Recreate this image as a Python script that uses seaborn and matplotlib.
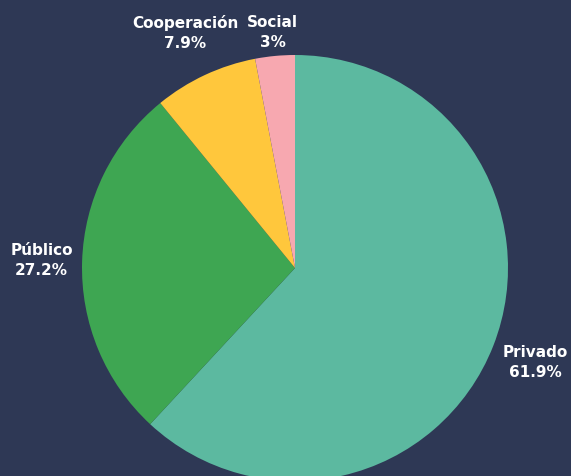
import numpy as np
import matplotlib
matplotlib.use("Agg")
import matplotlib.pyplot as plt
import seaborn as sns

categories = ["Privado", "Público", "Cooperación", "Social"]
values = [61.9, 27.2, 7.9, 3.0]
value_labels = ["61.9%", "27.2%", "7.9%", "3%"]
colors = ["#5CB9A0", "#3EA652", "#FFC73C", "#F7A8B0"]

sns.set_theme(style="white")
plt.rcParams["font.family"] = ["DejaVu Sans"]
bg = "#2E3855"

fig = plt.figure(figsize=(5.71, 4.76), dpi=100, facecolor=bg)
ax = fig.add_axes([0, 0, 1, 1])
ax.set_facecolor(bg)

wedges, _ = ax.pie(values, colors=colors, startangle=90, counterclock=False,
                   radius=1.0, center=(0, 0),
                   wedgeprops=dict(linewidth=0))

label_dist = [1.21, 1.19, 1.22, 1.11]
for w, cat, vl, d in zip(wedges, categories, value_labels, label_dist):
    ang = np.deg2rad((w.theta1 + w.theta2) / 2)
    x, y = d * np.cos(ang), d * np.sin(ang)
    ax.text(x, y, f"{cat}\n{vl}", ha="center", va="center", color="white",
            fontsize=11, fontweight="bold", linespacing=1.42)

ax.set_xlim(-295 / 213, (571 - 295) / 213)
ax.set_ylim(-(476 - 268) / 213, 268 / 213)
ax.set_aspect("auto")
ax.axis("off")

fig.savefig("out.png", dpi=100, facecolor=bg)
